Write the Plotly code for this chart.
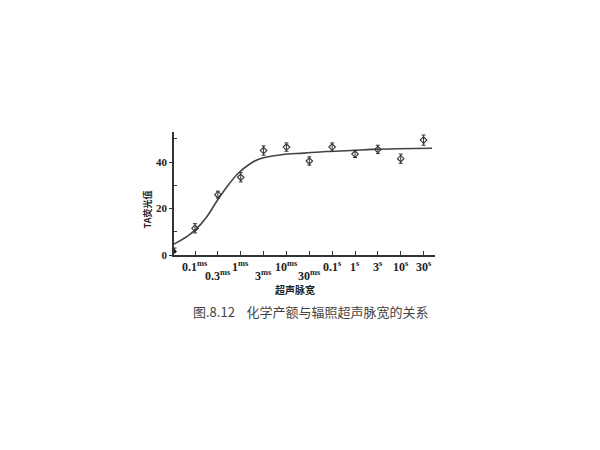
import plotly.graph_objects as go

# tick positions are evenly spaced steps along the pulse-width axis
tick_pos = [1, 2, 3, 4, 5, 6, 7, 8, 9, 10, 11]
tick_num = ["0.1", "0.3", "1", "3", "10", "30", "0.1", "1", "3", "10", "30"]
tick_unit = ["ms", "ms", "ms", "ms", "ms", "ms", "s", "s", "s", "s", "s"]
tick_row = [1, 2, 1, 2, 1, 2, 1, 1, 1, 1, 1]

# measured points
pt_x = [1, 2, 3, 4, 5, 6, 7, 8, 9, 10, 11]
pt_y = [11.5, 26, 33.5, 45, 46.5, 40.5, 46.5, 43.5, 45.5, 41.5, 49.5]
pt_err = [2, 1.5, 2, 2, 1.8, 1.8, 1.8, 1.5, 1.8, 2, 2.2]
origin_x = [0.1]
origin_y = [1.5]

# fitted curve
curve_x = [0.08, 0.64, 1.0, 1.51, 1.98, 2.39, 2.87, 3.41, 3.85, 4.8, 5.77, 6.73, 7.82, 8.75, 9.88, 11.37]
curve_y = [4.7, 7.9, 10.7, 16.4, 23.6, 29.3, 35.0, 39.3, 41.5, 43.2, 43.9, 44.6, 45.0, 45.5, 45.8, 46.0]

fig = go.Figure()
fig.add_trace(go.Scatter(x=curve_x, y=curve_y, mode="lines", line=dict(color="#444", width=1.6, shape="spline"),
                         hoverinfo="skip"))
fig.add_trace(go.Scatter(x=pt_x, y=pt_y, mode="markers",
                         marker=dict(symbol="diamond-open", size=5, color="#333", line=dict(width=1.1)),
                         error_y=dict(type="data", array=pt_err, color="#333", thickness=1, width=2)))
fig.add_trace(go.Scatter(x=origin_x, y=origin_y, mode="markers", cliponaxis=False,
                         marker=dict(symbol="circle", size=4, color="#222"),
                         error_y=dict(type="data", array=[1.5], arrayminus=[0], color="#222", thickness=1, width=2)))

# two staggered rows of x tick labels
annots = []
for p, n, u, r in zip(tick_pos, tick_num, tick_unit, tick_row):
    annots.append(dict(text="<b>" + n + "<sup>" + u + "</sup></b>", x=p, xref="x", yref="paper",
                       y=-0.095 if r == 1 else -0.17, showarrow=False, yanchor="middle",
                       font=dict(family="Liberation Serif", size=12, color="#222")))

annots += [
    dict(text="<b>超声脉宽</b>", x=0.465, y=-0.36, xref="paper", yref="paper", showarrow=False,
         font=dict(family="Noto Sans CJK SC", size=10, color="#222")),
    dict(text="<b>TA荧光值</b>", x=-0.136, y=0.37, xref="paper", yref="paper", showarrow=False,
         textangle=-90, font=dict(family="Noto Sans CJK SC", size=9, color="#222")),
    dict(text="图.8.12    化学产额与辐照超声脉宽的关系", x=0.525, y=-0.55, xref="paper", yref="paper",
         showarrow=False, font=dict(family="Noto Sans CJK SC", size=13, color="#444")),
]

fig.update_layout(
    width=600, height=450,
    margin=dict(l=166, r=173, t=124, b=203),
    paper_bgcolor="white", plot_bgcolor="white",
    showlegend=False,
    font=dict(family="Liberation Serif", color="#222"),
    xaxis=dict(range=[0.08, 11.5], tickvals=tick_pos, showticklabels=False, ticks="inside", ticklen=4,
               tickcolor="#333", showline=True, linecolor="#333", linewidth=1.5, showgrid=False,
               zeroline=False),
    yaxis=dict(range=[0, 53], tickvals=[0, 20, 40], ticktext=["<b>0</b>", "<b>20</b>", "<b>40</b>"],
               ticks="outside", ticklen=3, tickcolor="#333", showline=True, linecolor="#333", linewidth=1.5,
               showgrid=False, zeroline=False, tickfont=dict(size=11, color="#222"),
               minor=dict(tickvals=[10, 30, 50], ticks="inside", ticklen=3, tickcolor="#333")),
    annotations=annots,
)

fig.write_html("out.html")
